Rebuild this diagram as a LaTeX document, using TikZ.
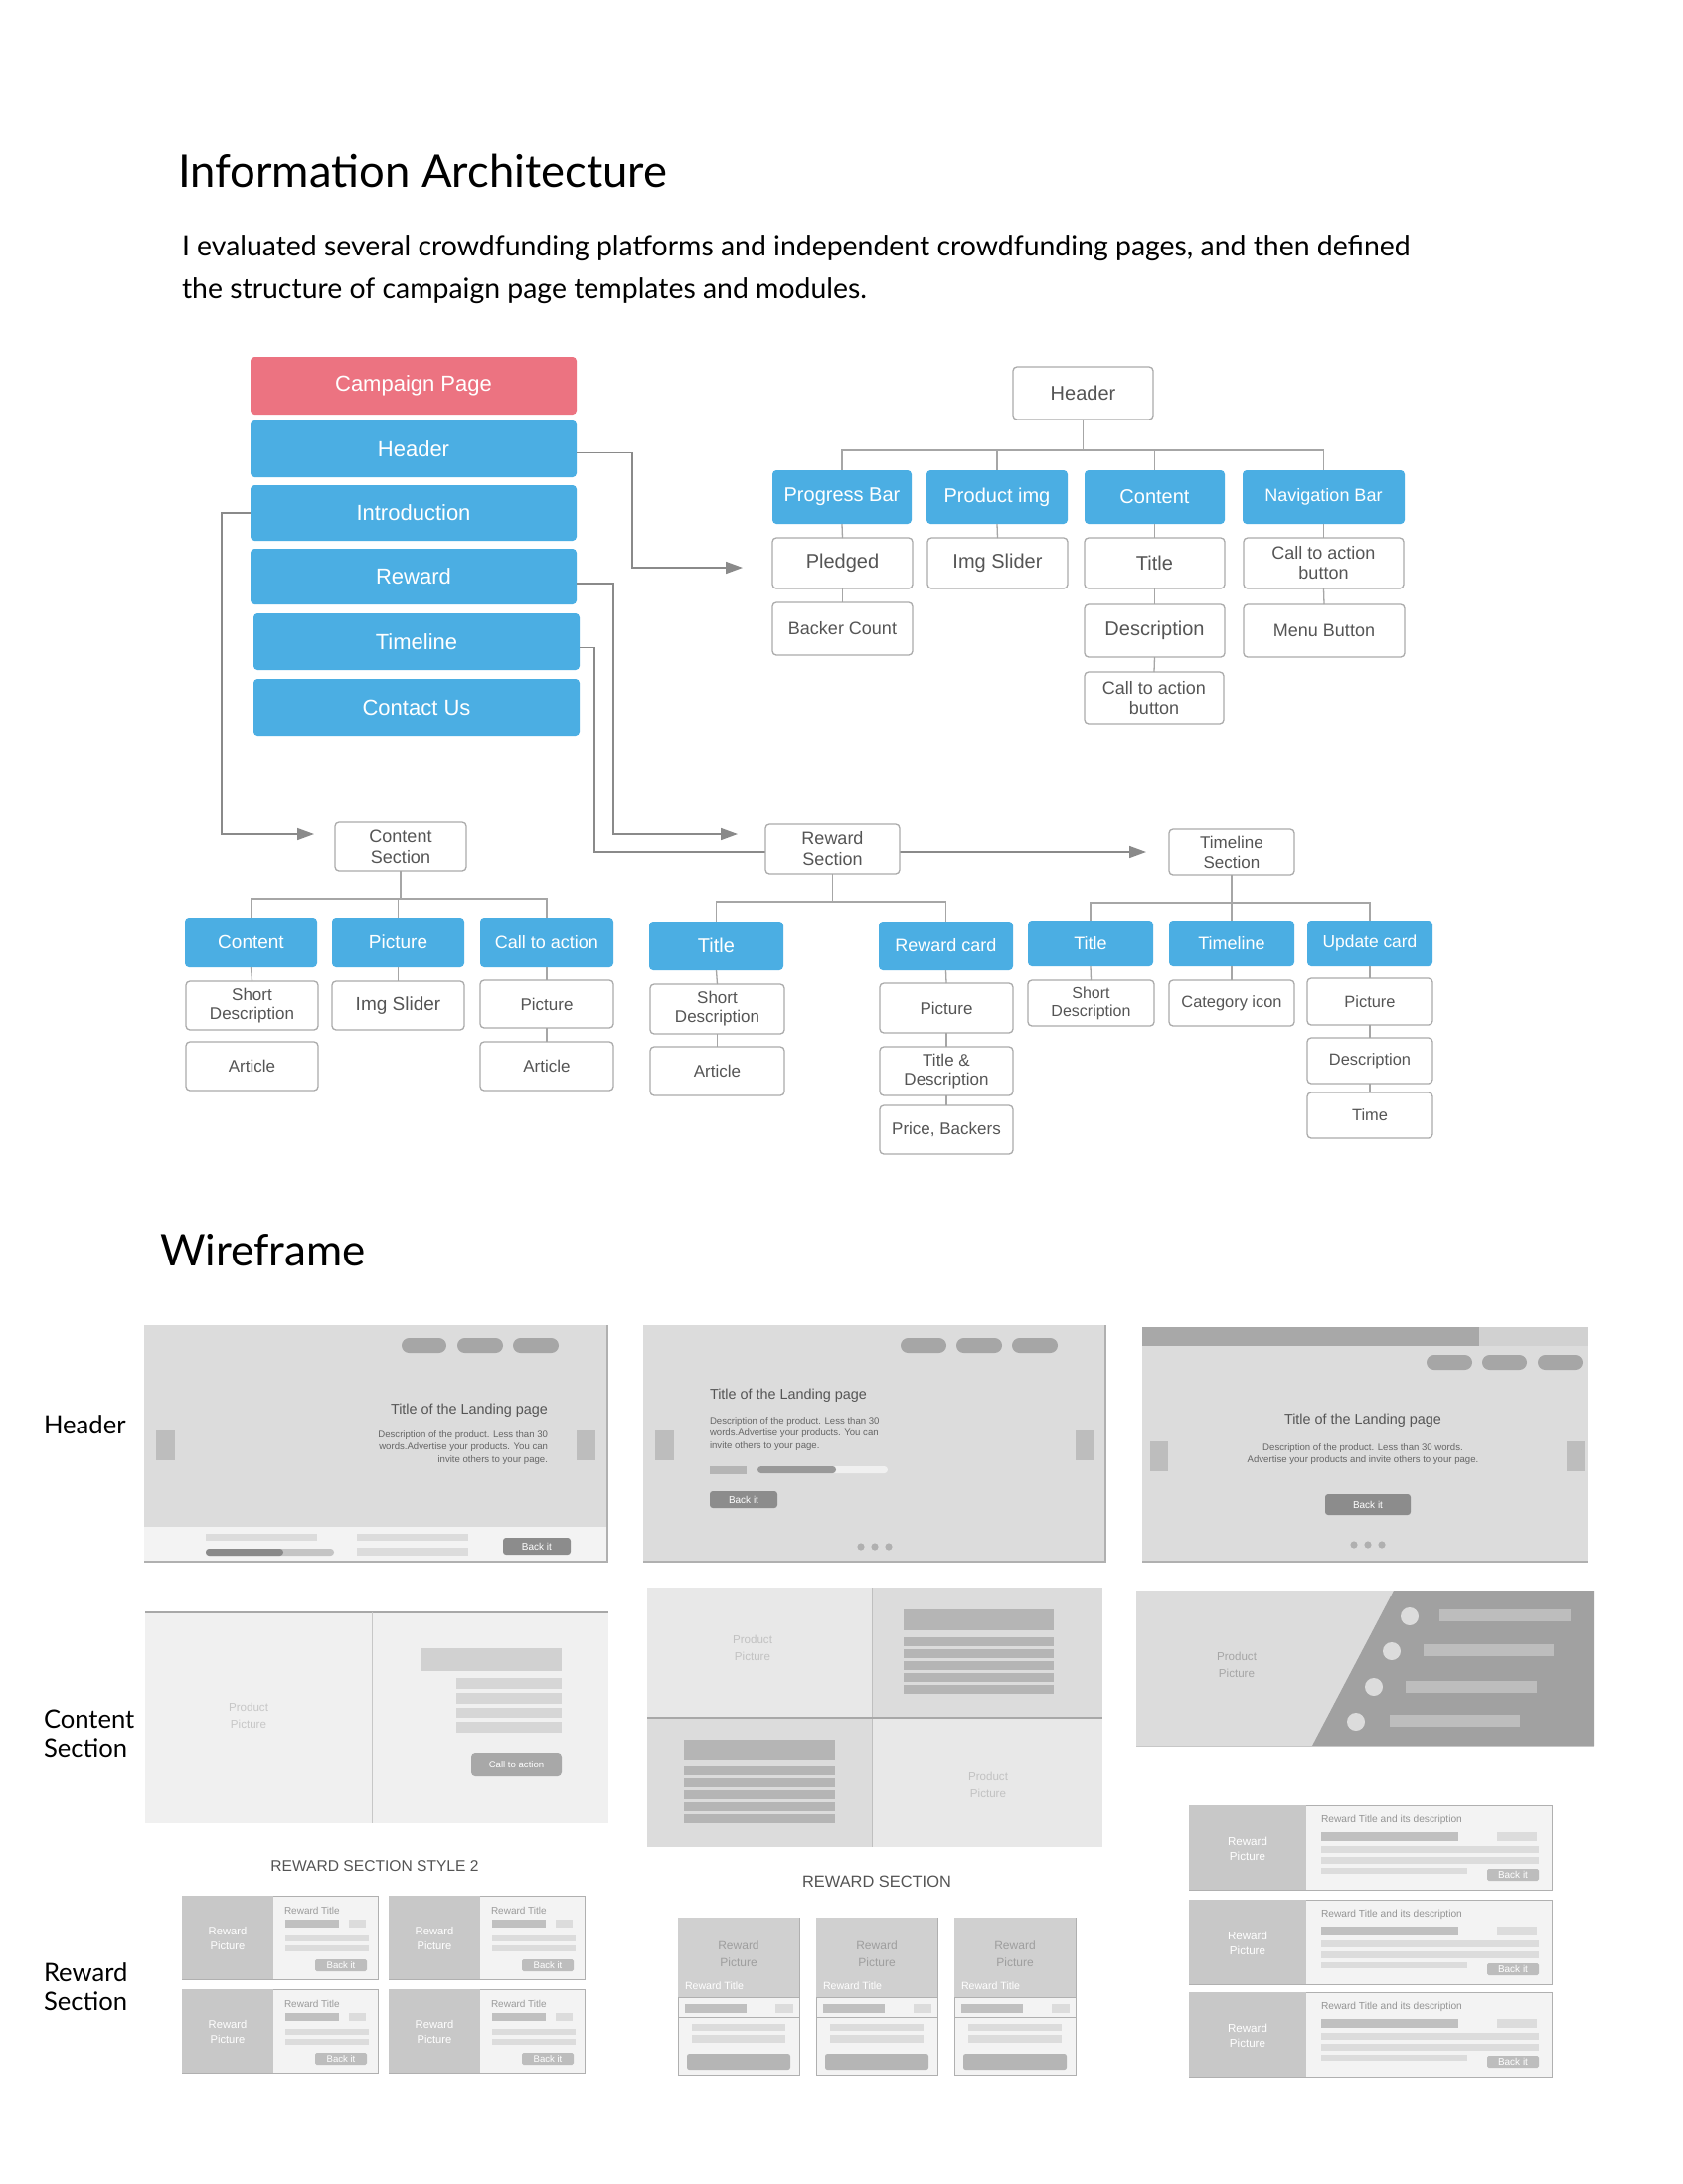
\documentclass[tikz,border=0pt]{standalone}
\usepackage{fontspec}
\setmainfont{Liberation Sans}
\newfontfamily\headfont{Lato}
\usetikzlibrary{arrows.meta}

\newcommand\fs[2]{\fontsize{#1pt}{#2pt}\selectfont}

\definecolor{iablue}{HTML}{4BAEE3}
\definecolor{iapink}{HTML}{EC7381}
\definecolor{iaborder}{HTML}{ABABAB}
\definecolor{iatext}{HTML}{555555}
\definecolor{iaarrow}{HTML}{8A8A8A}
\definecolor{iatree}{HTML}{A6A6A6}
\definecolor{wfbg}{HTML}{DCDCDC}
\definecolor{wfpill}{HTML}{A6A6A6}
\definecolor{wfside}{HTML}{BDBDBD}
\definecolor{wfbtn}{HTML}{8C8C8C}
\definecolor{wftitle}{HTML}{555555}
\definecolor{wfdesc}{HTML}{666666}
\definecolor{wfline}{HTML}{B0B0B0}
\definecolor{cardbg}{HTML}{F3F3F3}
\definecolor{cardpic}{HTML}{C8C8C8}
\definecolor{cardbar}{HTML}{C0C0C0}
\definecolor{cardlight}{HTML}{DCDCDC}
\definecolor{cardbtn}{HTML}{BDBDBD}

% box given by its corners: name, x1, y1, x2, y2, style, text
\newcommand\bx[7]{\node[#6,minimum width={(#4-#2)*0.5pt},minimum height={(#5-#3)*0.5pt}] (#1) at ({(#2+#4)/2},{(#3+#5)/2}) {#7};}
% filled rectangle: x1, y1, x2, y2, colour
\newcommand\rr[5]{\fill[#5] (#1,#2) rectangle (#3,#4);}

% reward card, picture on the left (small)
\newcommand\cardA[3]{%
\begin{scope}[shift={(#2,#3)}]
\draw[draw=wfline,line width=0.5pt,fill=cardbg] (0,0) rectangle (197,84);
\rr{0}{0}{92}{84}{cardpic}
\node[lbl,align=center,text=white,font=\fs{5.6}{7.5}] (#1p) at (46,43) {Reward\\Picture};
\node[lbl,anchor=west,text=cardbar!80!black,font=\fs{5}{6}] (#1t) at (103,15) {Reward Title};
\rr{104}{24}{158}{32}{cardbar}
\rr{168}{24}{185}{32}{cardlight}
\rr{104}{40}{188}{46}{cardlight}
\rr{104}{50}{188}{56}{cardlight}
\bx{#1b}{134}{64}{186}{76}{base,fill=cardbtn,text=white,rounded corners=0.8pt,font=\fs{4.8}{5}}{Back it}
\end{scope}}

% reward card, picture on top
\newcommand\cardB[3]{%
\begin{scope}[shift={(#2,#3)}]
\draw[draw=wfline,line width=0.5pt,fill=cardbg] (0,0) rectangle (122,158);
\rr{0}{0}{122}{80}{cardpic!85!white}
\node[lbl,align=center,text=black!38,font=\fs{6}{8.5}] (#1p) at (61,36.5) {Reward\\Picture};
\node[lbl,anchor=west,text=white,font=\fs{5.3}{6}] (#1t) at (7,69) {Reward Title};
\draw[draw=wfline,line width=0.5pt] (0,80) -- (122,80);
\draw[draw=wfline,line width=0.5pt] (0,100) -- (122,100);
\rr{7}{87}{69}{96}{cardbar}
\rr{98}{87}{116}{96}{cardlight}
\rr{14}{107}{108}{114}{cardlight}
\rr{14}{118}{108}{126}{cardlight}
\bx{#1b}{9}{137}{113}{153}{base,fill=black!29,rounded corners=1.2pt}{}
\end{scope}}

% reward card, picture on the left (wide)
\newcommand\cardC[3]{%
\begin{scope}[shift={(#2,#3)}]
\draw[draw=wfline,line width=0.5pt,fill=cardbg] (0,0) rectangle (365,85);
\rr{0}{0}{118}{85}{cardpic}
\node[lbl,align=center,text=white,font=\fs{5.8}{7.5}] (#1p) at (59,43.5) {Reward\\Picture};
\node[lbl,anchor=west,text=black!42,font=\fs{5.1}{6}] (#1t) at (133,15) {Reward Title and its description};
\rr{133}{27}{271}{36}{cardbar}
\rr{310}{27}{350}{36}{cardlight}
\rr{133}{41}{352}{48}{cardlight}
\rr{133}{52}{352}{59}{cardlight}
\rr{133}{63}{280}{69}{cardlight}
\bx{#1b}{300}{64}{352}{76}{base,fill=cardbtn,text=white,rounded corners=0.8pt,font=\fs{5}{5.5}}{Back it}
\end{scope}}

\begin{document}
\begin{tikzpicture}[x=0.5pt,y=-0.5pt,
  lbl/.style={inner sep=0pt,outer sep=0pt},
  base/.style={inner sep=0pt,outer sep=0pt,align=center,rounded corners=2pt},
  bluebox/.style={base,fill=iablue,text=white},
  pinkbox/.style={base,fill=iapink,text=white},
  wbox/.style={base,draw=iaborder,line width=0.65pt,fill=white,text=iatext},
  arr/.style={draw=iaarrow,line width=0.8pt,-{Triangle[length=8.5pt,width=6pt]}},
  tline/.style={draw=iatree,line width=0.65pt},
  pill/.style={fill=wfpill,rounded corners=3.75pt},
  wfbutton/.style={base,fill=wfbtn,text=white,rounded corners=1.5pt,font=\fs{5}{5.5}},
  headtxt/.style={lbl,anchor=base west,text=black,font=\headfont}]

\useasboundingbox (0,0) rectangle (1693,2197);
\fill[white] (0,0) rectangle (1693,2197);

% ---------- headings ----------
\node[headtxt,font=\headfont\fs{22.7}{27}] (iatitle) at (179,188) {Information Architecture};
\node[headtxt,font=\headfont\fs{14.2}{20}] (intro1) at (183,257) {I evaluated several crowdfunding platforms and independent crowdfunding pages, and then defined};
\node[headtxt,font=\headfont\fs{14.2}{20}] (intro2) at (183,300) {the structure of campaign page templates and modules.};

% ---------- page sections ----------
\bx{cp}{252}{359}{580}{417}{pinkbox,font=\fs{11}{13}}{Campaign Page}
\bx{lh}{252}{423}{580}{480}{bluebox,font=\fs{11}{13}}{Header}
\bx{li}{252}{488}{580}{544}{bluebox,font=\fs{11}{13}}{Introduction}
\bx{lr}{252}{552}{580}{608}{bluebox,font=\fs{11}{13}}{Reward}
\bx{lt}{255}{617}{583}{674}{bluebox,font=\fs{11}{13}}{Timeline}
\bx{lc}{255}{683}{583}{740}{bluebox,font=\fs{11}{13}}{Contact Us}

% arrow end points
\coordinate (ah) at (747,571);
\coordinate (acs) at (316,839);
\coordinate (ars) at (742,839);
\coordinate (ats) at (1153,857);

\draw[arr] ([yshift=-2pt]lh.east) -- ++(56,0) |- (ah);
\draw[arr] (li.west) -- ++(-29,0) |- (acs);
\draw[arr] ([yshift=-3.5pt]lr.east) -- ++(37,0) |- (ars);
\draw[arr] ([yshift=-3pt]lt.east) -- ++(15,0) |- (ats);

% ---------- header tree ----------
\bx{hdr}{1019}{369}{1160}{422}{wbox,font=\fs{10}{12}}{Header}
\bx{pb}{777}{473}{917}{527}{bluebox,font=\fs{10}{12}}{Progress Bar}
\bx{pi}{932}{473}{1074}{527}{bluebox,font=\fs{10}{12}}{Product img}
\bx{ct}{1091}{473}{1232}{527}{bluebox,font=\fs{10}{12}}{Content}
\bx{nb}{1250}{473}{1413}{527}{bluebox,font=\fs{9}{11}}{Navigation Bar}
\coordinate (hbus) at (0,453);
\foreach \c in {pb,pi,ct,nb} {\draw[tline] (hdr.south) |- (\c.north |- hbus) -- (\c.north);}
\bx{pl}{777}{541}{918}{592}{wbox,font=\fs{10}{12}}{Pledged}
\bx{is}{933}{541}{1074}{592}{wbox,font=\fs{10}{12}}{Img Slider}
\bx{ti}{1091}{541}{1232}{592}{wbox,font=\fs{10}{12}}{Title}
\bx{cta}{1251}{541}{1412}{592}{wbox,font=\fs{9}{10}}{Call to action\\button}
\bx{bc}{777}{606}{918}{659}{wbox,font=\fs{9}{11}}{Backer Count}
\bx{de}{1091}{608}{1232}{661}{wbox,font=\fs{10}{12}}{Description}
\bx{mb}{1251}{608}{1413}{661}{wbox,font=\fs{9}{11}}{Menu Button}
\bx{ctb}{1091}{676}{1231}{728}{wbox,font=\fs{9}{10}}{Call to action\\button}
\draw[tline] (pb.south) -- (pl.north);
\draw[tline] (pl.south) -- (bc.north);
\draw[tline] (pi.south) -- (is.north);
\draw[tline] (ct.south) -- (ti.north);
\draw[tline] (ti.south) -- (de.north);
\draw[tline] (de.south) -- (ctb.north);
\draw[tline] (nb.south) -- (cta.north);
\draw[tline] (cta.south) -- (mb.north);

% ---------- content section tree ----------
\bx{cs}{337}{827}{469}{876}{wbox,font=\fs{9}{10.5}}{Content\\Section}
\bx{bcont}{186}{923}{319}{973}{bluebox,font=\fs{9.5}{11}}{Content}
\bx{bpic}{334}{923}{467}{973}{bluebox,font=\fs{9.5}{11}}{Picture}
\bx{bcta}{483}{923}{617}{973}{bluebox,font=\fs{9}{11}}{Call to action}
\coordinate (cbus) at (0,904);
\foreach \c in {bcont,bpic,bcta} {\draw[tline] (cs.south) |- (\c.north |- cbus) -- (\c.north);}
\bx{sd1}{187}{987}{320}{1036}{wbox,font=\fs{8.5}{9.5}}{Short\\Description}
\bx{isl}{334}{987}{467}{1036}{wbox,font=\fs{9.5}{11}}{Img Slider}
\bx{pic1}{483}{986}{617}{1034}{wbox,font=\fs{8.5}{10}}{Picture}
\bx{art1}{187}{1048}{320}{1097}{wbox,font=\fs{8.5}{10}}{Article}
\bx{art2}{483}{1048}{617}{1097}{wbox,font=\fs{8.5}{10}}{Article}
\draw[tline] (bcont.south) -- (sd1.north);
\draw[tline] (sd1.south) -- (art1.north);
\draw[tline] (bpic.south) -- (isl.north);
\draw[tline] (bcta.south) -- (pic1.north);
\draw[tline] (pic1.south) -- (art2.north);

% ---------- reward section tree ----------
\bx{rs}{770}{829}{905}{879}{wbox,font=\fs{9}{10.5}}{Reward\\Section}
\bx{rtitle}{653}{927}{788}{976}{bluebox,font=\fs{10}{12}}{Title}
\bx{rcard}{884}{927}{1019}{976}{bluebox,font=\fs{9}{11}}{Reward card}
\coordinate (rbus) at (0,907);
\foreach \c in {rtitle,rcard} {\draw[tline] (rs.south) |- (\c.north |- rbus) -- (\c.north);}
\bx{rsd}{654}{990}{789}{1040}{wbox,font=\fs{8.5}{9.5}}{Short\\Description}
\bx{rart}{654}{1053}{789}{1102}{wbox,font=\fs{8.5}{10}}{Article}
\bx{rpic}{885}{989}{1019}{1039}{wbox,font=\fs{8.5}{10}}{Picture}
\bx{rtd}{885}{1053}{1019}{1102}{wbox,font=\fs{8.5}{9.5}}{Title \&\\Description}
\bx{rpb}{885}{1112}{1019}{1161}{wbox,font=\fs{8.5}{10}}{Price, Backers}
\draw[tline] (rtitle.south) -- (rsd.north);
\draw[tline] (rsd.south) -- (rart.north);
\draw[tline] (rcard.south) -- (rpic.north);
\draw[tline] (rpic.south) -- (rtd.north);
\draw[tline] (rtd.south) -- (rpb.north);

% ---------- timeline section tree ----------
\bx{ts}{1176}{834}{1302}{880}{wbox,font=\fs{8.5}{10}}{Timeline\\Section}
\bx{ttitle}{1034}{926}{1160}{972}{bluebox,font=\fs{9}{11}}{Title}
\bx{ttl}{1176}{926}{1302}{972}{bluebox,font=\fs{9}{11}}{Timeline}
\bx{tuc}{1315}{926}{1441}{972}{bluebox,font=\fs{8.7}{11}}{Update card}
\coordinate (tbus) at (0,908);
\foreach \c in {ttitle,ttl,tuc} {\draw[tline] (ts.south) |- (\c.north |- tbus) -- (\c.north);}
\bx{tsd}{1034}{986}{1161}{1032}{wbox,font=\fs{8}{9}}{Short\\Description}
\bx{tci}{1176}{986}{1302}{1032}{wbox,font=\fs{8.2}{10}}{Category icon}
\bx{tpic}{1315}{984}{1441}{1031}{wbox,font=\fs{8.2}{10}}{Picture}
\bx{tdesc}{1315}{1044}{1441}{1090}{wbox,font=\fs{8.2}{10}}{Description}
\bx{ttime}{1315}{1099}{1441}{1145}{wbox,font=\fs{8.2}{10}}{Time}
\draw[tline] (ttitle.south) -- (tsd.north);
\draw[tline] (ttl.south) -- (tci.north);
\draw[tline] (tuc.south) -- (tpic.north);
\draw[tline] (tpic.south) -- (tdesc.north);
\draw[tline] (tdesc.south) -- (ttime.north);

% ---------- wireframe heading and row labels ----------
\node[headtxt,font=\headfont\fs{22}{26}] (wftitle) at (161,1273) {Wireframe};
\node[headtxt,font=\headfont\fs{12.8}{15}] (rowh) at (44,1442) {Header};
\node[headtxt,font=\headfont\fs{12.8}{15}] (rowc1) at (44,1738) {Content};
\node[headtxt,font=\headfont\fs{12.8}{15}] (rowc2) at (44,1767) {Section};
\node[headtxt,font=\headfont\fs{12.8}{15}] (rowr1) at (44,1993) {Reward};
\node[headtxt,font=\headfont\fs{12.8}{15}] (rowr2) at (44,2022) {Section};

% ---------- header wireframe 1 ----------
\rr{145}{1333}{612}{1572}{wfbg}
\rr{145}{1536}{612}{1572}{cardbg}
\draw[wfline,line width=0.7pt] (145,1571) -- (611,1571) -- (611,1333);
\fill[pill] (404,1346) rectangle (449,1361);
\fill[pill] (460,1346) rectangle (506,1361);
\fill[pill] (516,1346) rectangle (562,1361);
\rr{157}{1439}{176}{1469}{wfside}
\rr{580}{1439}{599}{1469}{wfside}
\node[lbl,anchor=east,text=wftitle,font=\fs{7.2}{9}] (h1t) at (551,1419) {Title of the Landing page};
\node[lbl,anchor=east,align=right,text=wfdesc,font=\fs{4.8}{6.25}] (h1d) at (551,1456) {Description of the product. Less than 30\\words.Advertise your products. You can\\invite others to your page.};
\rr{207}{1543}{319}{1550}{cardlight}
\fill[black!23,rounded corners=1.7pt] (207,1558) rectangle (336,1565);
\fill[black!46,rounded corners=1.7pt] (207,1558) rectangle (285,1565);
\rr{359}{1543}{471}{1550}{cardlight}
\rr{359}{1557}{471}{1565}{cardlight}
\bx{h1b}{506}{1547}{574}{1564}{wfbutton}{Back it}

% ---------- header wireframe 2 ----------
\rr{647}{1333}{1113}{1572}{wfbg}
\draw[wfline,line width=0.7pt] (647,1571) -- (1112,1571) -- (1112,1333);
\fill[pill] (906,1346) rectangle (952,1361);
\fill[pill] (962,1346) rectangle (1008,1361);
\fill[pill] (1018,1346) rectangle (1064,1361);
\rr{659}{1439}{678}{1469}{wfside}
\rr{1082}{1439}{1101}{1469}{wfside}
\node[lbl,anchor=west,text=wftitle,font=\fs{7.2}{9}] (h2t) at (714,1404) {Title of the Landing page};
\node[lbl,anchor=west,align=left,text=wfdesc,font=\fs{4.8}{6.25}] (h2d) at (714,1442) {Description of the product. Less than 30\\words.Advertise your products. You can\\invite others to your page.};
\rr{714}{1475}{751}{1483}{black!29}
\fill[black!6,rounded corners=1.7pt] (762,1475) rectangle (893,1482);
\fill[black!40,rounded corners=1.7pt] (762,1475) rectangle (841,1482);
\bx{h2b}{714}{1500}{782}{1517}{wfbutton}{Back it}
\foreach \xx in {866,880,894} {\fill[black!31] (\xx,1556) circle[radius=1.8pt];}

% ---------- header wireframe 3 ----------
\rr{1149}{1335}{1597}{1571}{wfbg}
\rr{1149}{1335}{1488}{1354}{black!34}
\rr{1488}{1335}{1597}{1354}{black!18}
\draw[wfline,line width=0.7pt] (1149,1571) -- (1597,1571);
\fill[pill] (1435,1363) rectangle (1481,1378);
\fill[pill] (1491,1363) rectangle (1536,1378);
\fill[pill] (1547,1363) rectangle (1592,1378);
\rr{1157}{1450}{1175}{1480}{wfside}
\rr{1576}{1450}{1594}{1480}{wfside}
\node[lbl,text=wftitle,font=\fs{7.2}{9}] (h3t) at (1371,1429) {Title of the Landing page};
\node[lbl,align=center,text=wfdesc,font=\fs{4.8}{6.25}] (h3d) at (1371,1463) {Description of the product. Less than 30 words.\\Advertise your products and invite others to your page.};
\bx{h3b}{1333}{1503}{1419}{1524}{wfbutton}{Back it}
\foreach \xx in {1362,1376,1390} {\fill[black!31] (\xx,1554) circle[radius=1.8pt];}

% ---------- content wireframe 1 ----------
\rr{146}{1622}{612}{1834}{black!6}
\draw[black!34,line width=1pt] (146,1622) -- (612,1622);
\draw[black!22,line width=0.4pt] (374,1622) -- (374,1834);
\node[lbl,align=center,text=black!22,font=\fs{5.8}{8.5}] (c1p) at (250,1726) {Product\\Picture};
\rr{424}{1658}{565}{1681}{black!18}
\rr{459}{1688}{565}{1699}{black!16}
\rr{459}{1703}{565}{1714}{black!16}
\rr{459}{1718}{565}{1728}{black!16}
\rr{459}{1732}{565}{1743}{black!16}
\bx{c1b}{474}{1763}{565}{1787}{base,fill=black!34,text=white,font=\fs{4.8}{5.5}}{Call to action}

% ---------- content wireframe 2 ----------
\rr{651}{1597}{877}{1728}{black!9}
\rr{877}{1597}{1109}{1728}{wfbg}
\rr{651}{1728}{877}{1858}{wfbg}
\rr{877}{1728}{1109}{1858}{black!9}
\draw[black!25,line width=0.4pt] (877,1597) -- (877,1858);
\draw[black!34,line width=0.9pt] (651,1728) -- (1109,1728);
\node[lbl,align=center,text=black!24,font=\fs{5.8}{8.5}] (c2p1) at (757,1658) {Product\\Picture};
\node[lbl,align=center,text=black!24,font=\fs{5.8}{8.5}] (c2p2) at (994,1796) {Product\\Picture};
\rr{909}{1619}{1060}{1640}{black!29}
\foreach \yy in {1647,1659,1671,1683,1695} {\fill[black!29] (909,\yy) rectangle (1060,\yy+9);}
\rr{688}{1750}{840}{1770}{black!29}
\foreach \yy in {1777,1789,1801,1813,1825} {\fill[black!29] (688,\yy) rectangle (840,\yy+9);}

% ---------- content wireframe 3 ----------
\rr{1143}{1600}{1603}{1756}{wfbg}
\fill[black!37] (1402,1600) -- (1603,1600) -- (1603,1756) -- (1320,1756) -- cycle;
\draw[black!22,line width=0.5pt] (1143,1756) -- (1603,1756);
\node[lbl,align=center,text=black!35,font=\fs{5.8}{8.5}] (c3p) at (1244,1675) {Product\\Picture};
\foreach \xx/\yy in {1418/1626,1400/1661,1382/1697,1364/1732} {\fill[wfbg] (\xx,\yy) circle[radius=4.5pt];}
\rr{1448}{1619}{1580}{1631}{wfside}
\rr{1432}{1654}{1563}{1666}{wfside}
\rr{1414}{1691}{1546}{1703}{wfside}
\rr{1398}{1725}{1529}{1737}{wfside}

% ---------- reward wireframes ----------
\node[lbl,text=black!67,font=\fs{7.8}{9}] (rs2) at (377,1877) {REWARD SECTION STYLE 2};
\cardA{ra1}{183}{1907}
\cardA{ra2}{391}{1907}
\cardA{ra3}{183}{2001}
\cardA{ra4}{391}{2001}

\node[lbl,text=black!67,font=\fs{8.2}{9}] (rs1) at (882,1893) {REWARD SECTION};
\cardB{rb1}{682}{1929}
\cardB{rb2}{821}{1929}
\cardB{rb3}{960}{1929}

\cardC{rc1}{1196}{1816}
\cardC{rc2}{1196}{1911}
\cardC{rc3}{1196}{2004}

\end{tikzpicture}
\end{document}
